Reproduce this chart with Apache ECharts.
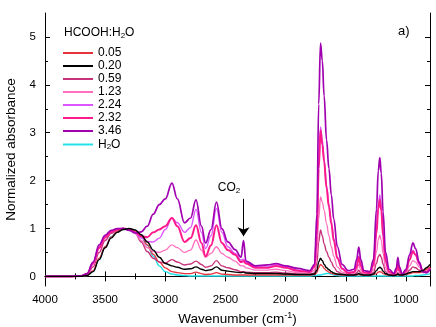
<!DOCTYPE html>
<html>
<head>
<meta charset="utf-8">
<script src="https://cdn.jsdelivr.net/npm/echarts@6/dist/echarts.min.js"></script>
<style>
  html, body { margin: 0; padding: 0; background: #fff; }
  #chart { width: 436px; height: 327px; }
</style>
</head>
<body>
<div id="chart"></div>
<script>
// wavenumber grid (cm-1), shared by all spectra
const wavenumbers = [4000, 3800, 3700, 3650, 3600, 3550, 3500, 3450, 3400, 3350,
  3300, 3250, 3200, 3150, 3100, 3050, 3000, 2945, 2900, 2840,
  2790, 2745, 2700, 2665, 2620, 2575, 2530, 2480, 2420, 2370,
  2350, 2330, 2250, 2150, 2080, 2000, 1900, 1800, 1760, 1740,
  1725, 1710, 1695, 1680, 1660, 1640, 1620, 1600, 1570, 1530,
  1480, 1430, 1410, 1392, 1375, 1350, 1300, 1270, 1245, 1230,
  1217, 1205, 1190, 1170, 1140, 1100, 1080, 1067, 1055, 1030,
  1000, 970, 942, 920, 890, 860, 830, 800];

const ratio005 = [0.00, 0.00, 0.00, 0.02, 0.12, 0.38, 0.62, 0.82, 0.94, 0.99,
  1.00, 0.95, 0.84, 0.66, 0.46, 0.30, 0.18, 0.10, 0.08, 0.06,
  0.06, 0.09, 0.06, 0.04, 0.05, 0.08, 0.05, 0.04, 0.03, 0.03,
  0.03, 0.03, 0.03, 0.03, 0.03, 0.03, 0.03, 0.03, 0.04, 0.08,
  0.18, 0.25, 0.22, 0.17, 0.12, 0.09, 0.07, 0.05, 0.04, 0.03,
  0.03, 0.03, 0.03, 0.04, 0.03, 0.03, 0.03, 0.04, 0.06, 0.09,
  0.10, 0.09, 0.06, 0.04, 0.03, 0.03, 0.03, 0.04, 0.03, 0.03,
  0.04, 0.06, 0.08, 0.08, 0.08, 0.10, 0.15, 0.20];

const ratio020 = [0.00, 0.00, 0.00, 0.02, 0.10, 0.35, 0.60, 0.80, 0.92, 0.98,
  1.00, 0.97, 0.87, 0.72, 0.55, 0.40, 0.27, 0.22, 0.19, 0.15,
  0.16, 0.20, 0.15, 0.12, 0.14, 0.20, 0.13, 0.11, 0.09, 0.08,
  0.09, 0.07, 0.06, 0.06, 0.06, 0.05, 0.04, 0.04, 0.05, 0.13,
  0.30, 0.38, 0.33, 0.25, 0.18, 0.14, 0.10, 0.07, 0.05, 0.04,
  0.03, 0.03, 0.04, 0.06, 0.04, 0.03, 0.03, 0.05, 0.12, 0.17,
  0.19, 0.17, 0.11, 0.06, 0.03, 0.02, 0.03, 0.05, 0.03, 0.03,
  0.05, 0.08, 0.10, 0.10, 0.10, 0.12, 0.18, 0.25];

const ratio059 = [0.00, 0.00, 0.00, 0.03, 0.20, 0.50, 0.75, 0.90, 0.97, 1.00,
  0.99, 0.90, 0.72, 0.52, 0.38, 0.30, 0.28, 0.35, 0.30, 0.24,
  0.26, 0.32, 0.25, 0.19, 0.22, 0.33, 0.22, 0.18, 0.14, 0.10,
  0.10, 0.09, 0.08, 0.08, 0.09, 0.07, 0.05, 0.05, 0.07, 0.28,
  0.72, 0.97, 0.85, 0.68, 0.52, 0.40, 0.30, 0.20, 0.10, 0.05,
  0.03, 0.04, 0.07, 0.13, 0.07, 0.03, 0.03, 0.08, 0.27, 0.41,
  0.46, 0.40, 0.26, 0.10, 0.04, 0.02, 0.04, 0.08, 0.05, 0.02,
  0.05, 0.13, 0.20, 0.18, 0.13, 0.08, 0.10, 0.18];

const ratio123 = [0.00, 0.00, 0.01, 0.04, 0.25, 0.58, 0.80, 0.92, 0.97, 1.00,
  0.98, 0.90, 0.75, 0.60, 0.52, 0.50, 0.55, 0.66, 0.60, 0.50,
  0.55, 0.76, 0.55, 0.40, 0.48, 0.62, 0.48, 0.40, 0.32, 0.22,
  0.22, 0.18, 0.13, 0.13, 0.15, 0.12, 0.08, 0.07, 0.12, 0.45,
  1.20, 1.66, 1.55, 1.38, 1.10, 0.85, 0.62, 0.42, 0.20, 0.09,
  0.05, 0.06, 0.13, 0.25, 0.13, 0.05, 0.05, 0.14, 0.50, 0.77,
  0.86, 0.75, 0.48, 0.18, 0.06, 0.03, 0.07, 0.15, 0.08, 0.03,
  0.08, 0.22, 0.33, 0.30, 0.20, 0.10, 0.10, 0.18];

const ratio224 = [0.00, 0.00, 0.01, 0.05, 0.28, 0.62, 0.84, 0.95, 0.99, 1.00,
  0.97, 0.90, 0.80, 0.73, 0.72, 0.80, 0.98, 1.22, 1.12, 0.92,
  1.02, 1.40, 0.92, 0.58, 0.85, 1.42, 0.92, 0.62, 0.48, 0.34,
  0.36, 0.29, 0.20, 0.20, 0.25, 0.20, 0.13, 0.10, 0.20, 0.85,
  2.30, 3.12, 2.85, 2.45, 1.90, 1.50, 1.15, 0.80, 0.40, 0.17,
  0.08, 0.10, 0.22, 0.42, 0.24, 0.08, 0.07, 0.25, 0.95, 1.50,
  1.70, 1.45, 0.90, 0.35, 0.10, 0.04, 0.12, 0.28, 0.14, 0.04,
  0.12, 0.35, 0.55, 0.45, 0.25, 0.10, 0.08, 0.15];

const ratio232 = [0.00, 0.00, 0.01, 0.05, 0.28, 0.60, 0.82, 0.93, 0.98, 1.00,
  0.98, 0.92, 0.84, 0.82, 0.92, 0.98, 1.05, 1.22, 1.05, 0.72,
  0.80, 1.07, 0.70, 0.42, 0.65, 1.07, 0.70, 0.55, 0.45, 0.30,
  0.32, 0.27, 0.18, 0.18, 0.22, 0.18, 0.12, 0.09, 0.20, 0.85,
  2.25, 3.05, 2.75, 2.40, 1.85, 1.45, 1.10, 0.75, 0.38, 0.16,
  0.07, 0.09, 0.20, 0.40, 0.22, 0.08, 0.07, 0.24, 0.90, 1.42,
  1.60, 1.38, 0.85, 0.32, 0.10, 0.04, 0.12, 0.26, 0.13, 0.04,
  0.12, 0.35, 0.52, 0.45, 0.28, 0.12, 0.10, 0.18];

const ratio346 = [0.00, 0.00, 0.01, 0.06, 0.30, 0.66, 0.86, 0.96, 1.00, 1.00,
  0.96, 0.91, 0.93, 1.05, 1.30, 1.50, 1.62, 1.95, 1.62, 1.12,
  1.22, 1.60, 1.05, 0.70, 0.98, 1.55, 1.00, 0.72, 0.56, 0.40,
  0.75, 0.32, 0.22, 0.24, 0.27, 0.22, 0.17, 0.12, 0.25, 1.30,
  3.60, 4.87, 4.50, 3.77, 2.85, 2.25, 1.70, 1.20, 0.62, 0.25,
  0.12, 0.15, 0.35, 0.61, 0.35, 0.12, 0.10, 0.35, 1.40, 2.20,
  2.48, 2.15, 1.35, 0.50, 0.15, 0.06, 0.18, 0.40, 0.20, 0.05,
  0.15, 0.45, 0.70, 0.58, 0.30, 0.10, 0.08, 0.14];

const water = [0.00, 0.00, 0.00, 0.02, 0.10, 0.35, 0.62, 0.83, 0.95, 1.00,
  0.98, 0.92, 0.82, 0.65, 0.42, 0.22, 0.10, 0.05, 0.03, 0.02,
  0.01, 0.01, 0.01, 0.01, 0.01, 0.01, 0.01, 0.01, 0.01, 0.01,
  0.01, 0.01, 0.01, 0.01, 0.01, 0.01, 0.01, 0.01, 0.02, 0.02,
  0.03, 0.03, 0.04, 0.05, 0.06, 0.06, 0.05, 0.03, 0.02, 0.01,
  0.01, 0.01, 0.01, 0.01, 0.01, 0.01, 0.01, 0.01, 0.01, 0.01,
  0.01, 0.01, 0.01, 0.01, 0.01, 0.01, 0.01, 0.01, 0.01, 0.01,
  0.01, 0.01, 0.01, 0.02, 0.02, 0.03, 0.04, 0.06];

const seriesNames = ["0.05", "0.20", "0.59", "1.23", "2.24", "2.32", "3.46", "H2O"];
const seriesValues = [ratio005, ratio020, ratio059, ratio123, ratio224, ratio232, ratio346, water];
const seriesColors = ["#e8323c", "#000000", "#c8327a", "#ff6fc0", "#dd55ff", "#ff1a8c", "#a000b0", "#22e0e8"];
const seriesWidths = [1.3, 1.4, 1.4, 1.3, 1.4, 2, 1.7, 1.4];
const seriesZ = [3, 9, 4, 5, 6, 7, 8, 2];

const xMajor = [1000, 1500, 2000, 2500, 3000, 3500, 4000];
const xMinor = [1250, 1750, 2250, 2750, 3250, 3750];
const yMajor = [0, 1, 2, 3, 4, 5];
const yMinor = [0.5, 1.5, 2.5, 3.5, 4.5];

const FONT = "Liberation Sans";
const chart = echarts.init(document.getElementById("chart"));

const xBase = { type: "value", min: 800, max: 4000, inverse: true, splitLine: { show: false } };
const yBase = { type: "value", min: -0.2, max: 5.5, splitLine: { show: false } };
const axisLine = { show: true, lineStyle: { color: "#000", width: 1 } };

const series = seriesNames.map((name, i) => ({
  name: name,
  type: "line",
  xAxisIndex: 0,
  yAxisIndex: 0,
  smooth: 0.4,
  smoothMonotone: "x",
  symbol: "none",
  z: seriesZ[i],
  lineStyle: { color: seriesColors[i], width: seriesWidths[i] },
  itemStyle: { color: seriesColors[i] },
  data: wavenumbers.map((w, k) => [w, seriesValues[i][k]]),
}));

// CO2 arrow
series[6].markLine = {
  silent: true,
  symbol: ["none", "arrow"],
  symbolSize: 9,
  lineStyle: { color: "#000", width: 1, type: "solid" },
  label: { show: false },
  data: [[{ coord: [2350, 1.62] }, { coord: [2350, 0.84] }]],
};
series[6].markPoint = {
  silent: true,
  symbol: "circle",
  symbolSize: 0,
  label: {
    show: true,
    formatter: "{t|CO}{s|2}",
    rich: {
      t: { fontFamily: FONT, fontSize: 12, color: "#000" },
      s: { fontFamily: FONT, fontSize: 8, color: "#000", padding: [6, 0, 0, 0] },
    },
  },
  data: [{ coord: [2470, 1.85] }],
};

chart.setOption({
  animation: false,
  backgroundColor: "#fff",
  grid: { left: 45, right: 6, top: 13, bottom: 41, containLabel: false, outerBoundsMode: "none" },
  legend: {
    orient: "vertical",
    left: 58,
    top: 42,
    itemWidth: 30,
    itemHeight: 2,
    itemGap: 1,
    icon: "rect",
    data: seriesNames,
    formatter: (n) => (n === "H2O" ? "{t|H}{s|2}{t|O}" : "{t|" + n + "}"),
    textStyle: {
      fontFamily: FONT,
      fontSize: 12,
      color: "#000",
      rich: {
        t: { fontFamily: FONT, fontSize: 12, color: "#000", lineHeight: 12 },
        s: { fontFamily: FONT, fontSize: 8, color: "#000", lineHeight: 12, padding: [5, 0, 0, 0] },
      },
    },
  },
  xAxis: [
    Object.assign({}, xBase, {
      position: "bottom",
      axisLine: axisLine,
      axisTick: { show: true, inside: true, length: 5, customValues: xMajor, lineStyle: { color: "#000" } },
      axisLabel: {
        show: true, customValues: xMajor, margin: 8, fontFamily: FONT, fontSize: 11.5, color: "#000",
        formatter: (v) => String(v),
      },
      name: "{a|Wavenumber (cm}{s|-1}{a|)}",
      nameLocation: "middle",
      nameGap: 22,
      nameTextStyle: {
        rich: {
          a: { fontFamily: FONT, fontSize: 13.5, color: "#000" },
          s: { fontFamily: FONT, fontSize: 9, color: "#000", padding: [0, 0, 8, 0] },
        },
      },
    }),
    Object.assign({}, xBase, {
      position: "top",
      axisLine: axisLine,
      axisTick: { show: true, inside: true, length: 5, customValues: xMajor, lineStyle: { color: "#000" } },
      axisLabel: { show: false },
    }),
    Object.assign({}, xBase, {
      position: "bottom",
      axisLine: { show: false },
      axisTick: { show: true, inside: true, length: 3, customValues: xMinor, lineStyle: { color: "#000" } },
      axisLabel: { show: false },
    }),
    Object.assign({}, xBase, {
      position: "top",
      axisLine: { show: false },
      axisTick: { show: true, inside: true, length: 3, customValues: xMinor, lineStyle: { color: "#000" } },
      axisLabel: { show: false },
    }),
  ],
  yAxis: [
    Object.assign({}, yBase, {
      position: "left",
      axisLine: axisLine,
      axisTick: { show: true, inside: true, length: 5, customValues: yMajor, lineStyle: { color: "#000" } },
      axisLabel: { show: true, customValues: yMajor, margin: 9, fontFamily: FONT, fontSize: 11.5, color: "#000" },
      name: "Normalized absorbance",
      nameLocation: "middle",
      nameGap: 26,
      nameTextStyle: { fontFamily: FONT, fontSize: 13.5, color: "#000" },
    }),
    Object.assign({}, yBase, {
      position: "right",
      axisLine: axisLine,
      axisTick: { show: true, inside: true, length: 5, customValues: yMajor, lineStyle: { color: "#000" } },
      axisLabel: { show: false },
    }),
    Object.assign({}, yBase, {
      position: "left",
      axisLine: { show: false },
      axisTick: { show: true, inside: true, length: 3, customValues: yMinor, lineStyle: { color: "#000" } },
      axisLabel: { show: false },
    }),
    Object.assign({}, yBase, {
      position: "right",
      axisLine: { show: false },
      axisTick: { show: true, inside: true, length: 3, customValues: yMinor, lineStyle: { color: "#000" } },
      axisLabel: { show: false },
    }),
  ],
  graphic: [
    {
      type: "text",
      left: 64,
      top: 27,
      style: {
        text: "{t|HCOOH:H}{s|2}{t|O}",
        rich: {
          t: { fontFamily: FONT, fontSize: 12, fill: "#000" },
          s: { fontFamily: FONT, fontSize: 8, fill: "#000", padding: [6, 0, 0, 0] },
        },
      },
    },
    {
      type: "text",
      left: 398,
      top: 25,
      style: { text: "a)", fontFamily: FONT, fontSize: 13, fill: "#000" },
    },
  ],
  series: series,
});
</script>
</body>
</html>
